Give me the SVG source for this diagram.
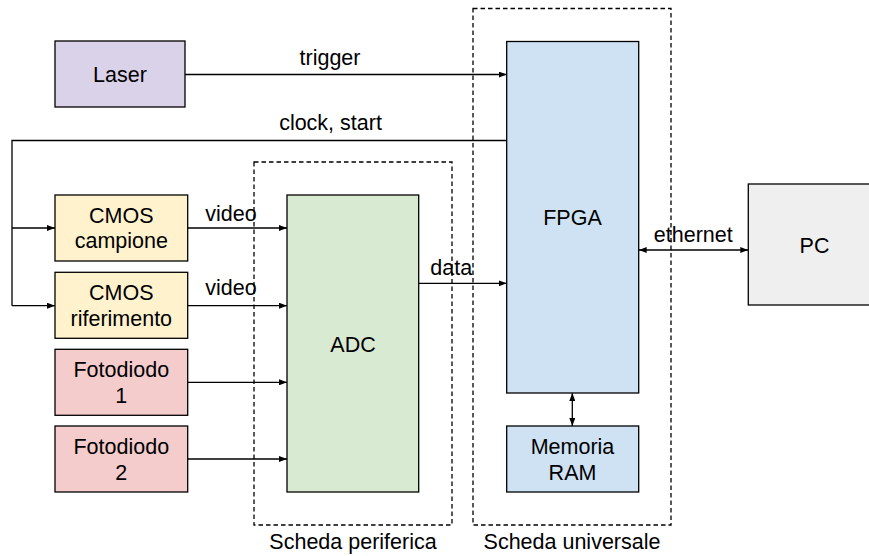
<svg xmlns="http://www.w3.org/2000/svg" width="869" height="556" viewBox="0 0 869 556">
<defs>
<marker id="ah" markerWidth="8" markerHeight="6" refX="8" refY="3" orient="auto" markerUnits="userSpaceOnUse">
<path d="M0,0 L8,3 L0,6 Z" fill="#000"/>
</marker>
<marker id="as" markerWidth="8" markerHeight="6" refX="0" refY="3" orient="auto" markerUnits="userSpaceOnUse">
<path d="M8,0 L0,3 L8,6 Z" fill="#000"/>
</marker>
<style>
text{font-family:"Liberation Sans",Arial,sans-serif;font-size:21.5px;fill:#000;text-anchor:middle}
.box{stroke:#000;stroke-width:1.3}
.dash{fill:none;stroke:#000;stroke-width:1.3;stroke-dasharray:4.5 3}
.c{fill:none;stroke:#000;stroke-width:1.3}
</style>
</defs>
<rect width="869" height="556" fill="#fff"/>
<g id="scheda-periferica">
<rect class="dash" x="254" y="162" width="198" height="363"/>
<text x="353" y="549">Scheda periferica</text>
</g>
<g id="scheda-universale">
<rect class="dash" x="473" y="8.5" width="198" height="516.5"/>
<text x="572" y="549">Scheda universale</text>
</g>
<g id="laser">
<rect class="box" x="55" y="41" width="130" height="66" fill="#d9d2e9"/>
<text x="120" y="82">Laser</text>
</g>
<g id="cmos-campione">
<rect class="box" x="55" y="195" width="132.7" height="66" fill="#fff2cc"/>
<text x="121.3" y="223">CMOS</text>
<text x="121.3" y="248">campione</text>
</g>
<g id="cmos-riferimento">
<rect class="box" x="55" y="272.3" width="132.7" height="66" fill="#fff2cc"/>
<text x="121.3" y="300">CMOS</text>
<text x="121.3" y="325.5">riferimento</text>
</g>
<g id="fotodiodo-1">
<rect class="box" x="55" y="349.3" width="132.7" height="66" fill="#f4cccc"/>
<text x="121.3" y="377">Fotodiodo</text>
<text x="121.3" y="403">1</text>
</g>
<g id="fotodiodo-2">
<rect class="box" x="55" y="426" width="132.7" height="66" fill="#f4cccc"/>
<text x="121.3" y="453.5">Fotodiodo</text>
<text x="121.3" y="480">2</text>
</g>
<g id="adc">
<rect class="box" x="287" y="195" width="131.7" height="297" fill="#d9ead3"/>
<text x="353" y="351.5">ADC</text>
</g>
<g id="fpga">
<rect class="box" x="506.7" y="41.5" width="132" height="351.5" fill="#cfe2f3"/>
<text x="572.5" y="225">FPGA</text>
</g>
<g id="memoria-ram">
<rect class="box" x="506.7" y="426" width="132" height="66" fill="#cfe2f3"/>
<text x="572.5" y="454">Memoria</text>
<text x="572.5" y="480">RAM</text>
</g>
<g id="pc">
<rect class="box" x="748.3" y="184" width="135" height="121" fill="#efefef"/>
<text x="814.5" y="252.5">PC</text>
</g>
<g id="connectors">
<path class="c" d="M185,74.5 H506.7" marker-end="url(#ah)"/>
<text x="330" y="65">trigger</text>
<path class="c" d="M506.7,140.5 H12 V305.7"/>
<text x="330.5" y="130">clock, start</text>
<path class="c" d="M12,228 H55" marker-end="url(#ah)"/>
<path class="c" d="M12,305.7 H55" marker-end="url(#ah)"/>
<path class="c" d="M187.7,228 H287" marker-end="url(#ah)"/>
<text x="231" y="220.5">video</text>
<path class="c" d="M187.7,305.7 H287" marker-end="url(#ah)"/>
<text x="231" y="295">video</text>
<path class="c" d="M187.7,382.3 H287" marker-end="url(#ah)"/>
<path class="c" d="M187.7,459 H287" marker-end="url(#ah)"/>
<path class="c" d="M418.7,283.3 H506.7" marker-end="url(#ah)"/>
<text x="451.3" y="275">data</text>
<path class="c" d="M638.7,250 H748.3" marker-start="url(#as)" marker-end="url(#ah)"/>
<text x="693.3" y="241.5">ethernet</text>
<path class="c" d="M572.3,393 V426" marker-start="url(#as)" marker-end="url(#ah)"/>
</g>
</svg>
